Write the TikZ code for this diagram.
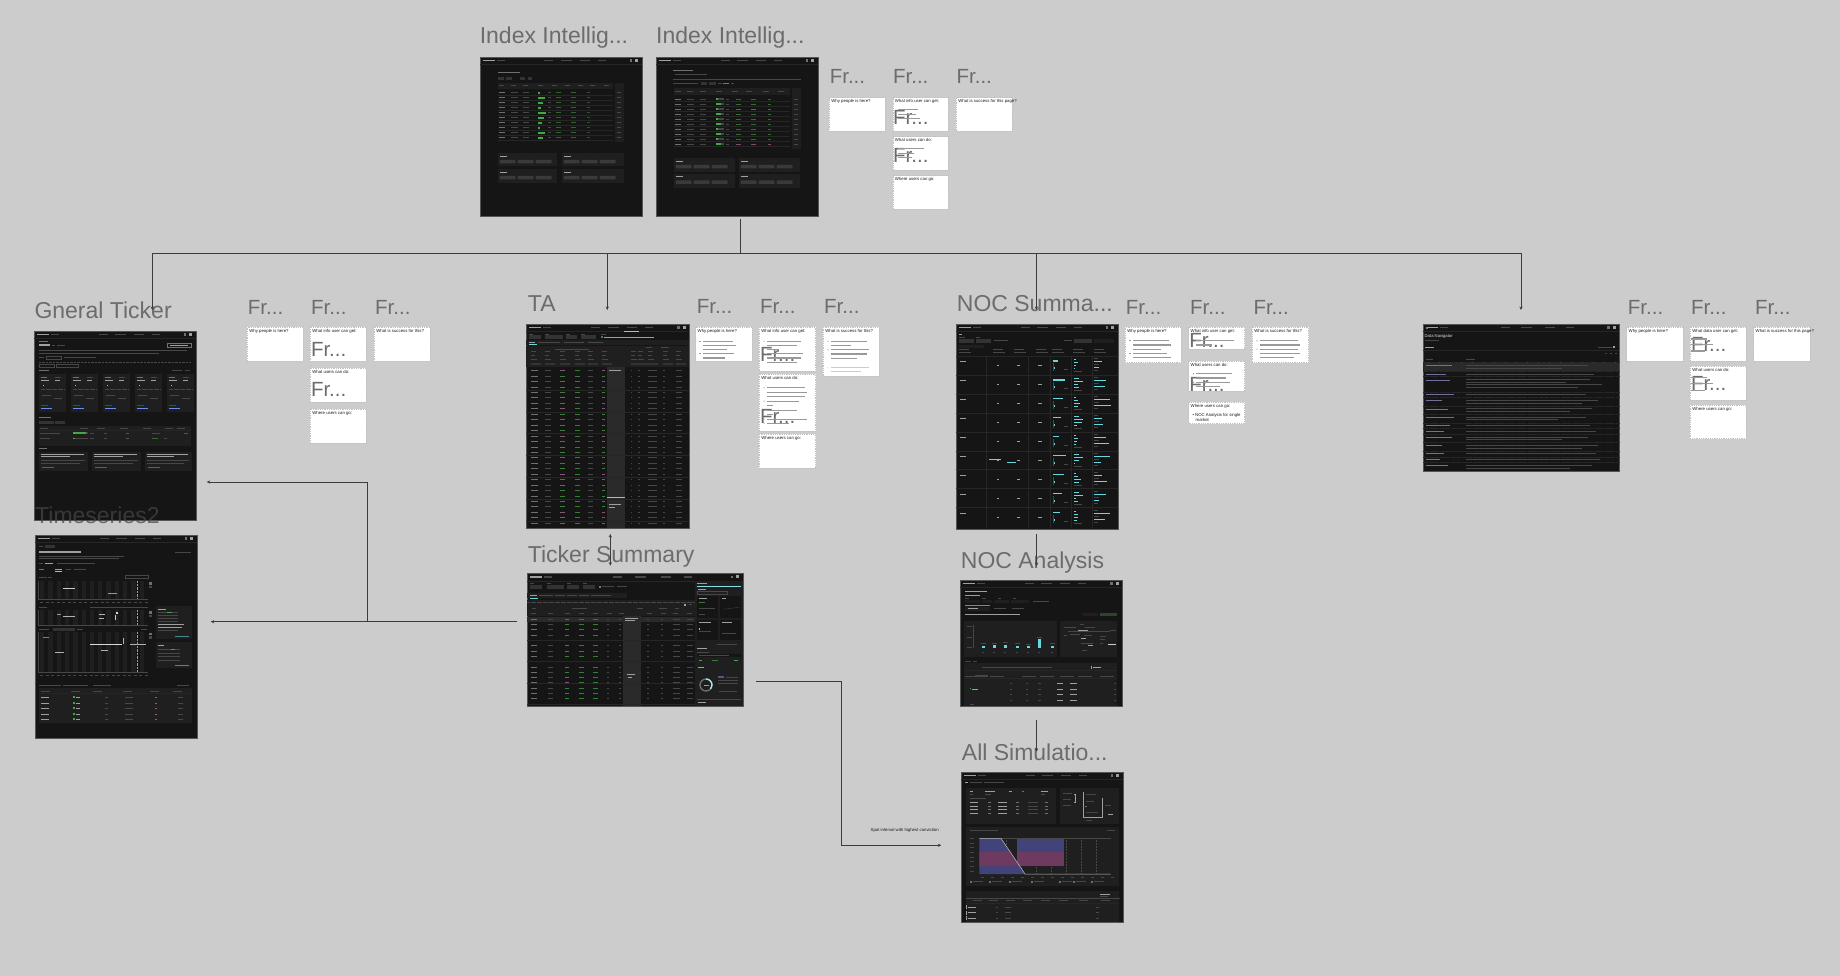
\documentclass[tikz,border=0pt]{standalone}
\usepackage{fontspec}
\setmainfont{Liberation Sans}
\usetikzlibrary{arrows.meta,calc}
\definecolor{bgc}{HTML}{CCCCCC}
\definecolor{ttl}{HTML}{6C6C6C}
\definecolor{frm}{HTML}{151515}
\definecolor{frmb}{HTML}{555555}
\definecolor{pnl}{HTML}{1F1F1F}
\definecolor{pnb}{HTML}{333333}
\definecolor{pilc}{HTML}{3A3A3A}
\definecolor{txg}{HTML}{707070}
\definecolor{txd}{HTML}{474747}
\definecolor{txl}{HTML}{A0A0A0}
\definecolor{grn}{HTML}{43A843}
\definecolor{cyn}{HTML}{66D8E0}
\definecolor{lnk}{HTML}{3C3C3C}
\definecolor{stb}{HTML}{C2C2C2}
\definecolor{hcol}{HTML}{2A2A2A}
\definecolor{sep}{HTML}{262626}
\definecolor{pur}{HTML}{41437A}
\definecolor{pnk}{HTML}{6E3A60}
\definecolor{lkc}{HTML}{70709A}
\definecolor{sttx}{HTML}{1A1A1A}
\definecolor{t2c}{HTML}{464646}

\newcommand{\bartx}[4][txg]{\fill[#1] ({#2},{#3}) rectangle ++({#4},1);}
\newcommand{\mknav}[1]{%
  \fill[txl] (3,3) rectangle ++(12,1.2);
  \fill[txd] (17,3) rectangle ++(8,1.2);
  \fill[txd] ({#1*0.40},3) rectangle ++(9,1.2);
  \fill[txd] ({#1*0.50},3) rectangle ++(11,1.2);
  \fill[txd] ({#1*0.62},3) rectangle ++(10,1.2);
  \fill[txd] ({#1*0.73},3) rectangle ++(8,1.2);
  \fill[txg] ({#1-12},2.3) rectangle ++(2.6,2.6);
  \fill[txl] ({#1-6.5},2.1) rectangle ++(3,3);
  \draw[sep,line width=0.3pt] (0,7.5) -- (#1,7.5);
}
\newcommand{\mkpill}[4]{%
  \fill[pnl] (#1,#2) rectangle (#3,#4);
  \bartx[txl]{#1+2}{#2+2.5}{7}
  \foreach \k in {0,1,2}{\fill[pilc,rounded corners=0.8pt] ({#1+2+\k*18},{#2+6.5}) rectangle ++(16,3.5);}
}
\newcommand{\stk}[6]{%
  \node[stick,minimum width=#4pt,minimum height=#5pt] (#1) at (#2,#3) {};
  \node[stxt] (#1-t) at ($(#1.north west)+(2.2,2.3)$) {#6};
}
\newcommand{\stl}[4]{\fill[black!40] ($(#1.north west)+(#2,#3)$) rectangle ++(#4,1.1);}
\newcommand{\stdot}[3]{\fill[black!70] ($(#1.north west)+(#2,#3)$) circle (0.5);}
\newcommand{\nfr}[4]{\node[frnode] (#1) at ($(#2.north west)+(#3,#4)$) {Fr...};}

\tikzset{
  ttlnode/.style={anchor=base west,inner sep=0pt,text=ttl,font=\fontsize{23}{27}\selectfont},
  frnode/.style={anchor=base west,inner sep=0pt,text=ttl,font=\fontsize{20.5}{24}\selectfont},
  scrn/.style={fill=frm,draw=frmb,line width=0.7pt,anchor=north west,inner sep=0pt},
  stick/.style={fill=white,draw=stb,dash pattern=on 1pt off 0.8pt,line width=0.45pt,anchor=north west,inner sep=0pt},
  stxt/.style={anchor=north west,inner sep=0pt,text=sttx,font=\fontsize{4.3}{5.2}\selectfont},
  lnkline/.style={draw=lnk,line width=0.9pt},
  conn/.style={lnkline,-{Stealth[length=3.5pt,width=3.2pt]}},
  conn2/.style={lnkline,{Stealth[length=3.5pt,width=3.2pt]}-{Stealth[length=3.5pt,width=3.2pt]}},
  lbl/.style={inner sep=0pt,text=sttx,font=\fontsize{4.3}{5}\selectfont},
}

\begin{document}
\begin{tikzpicture}[x=1pt,y=-1pt]
\useasboundingbox (0,0) rectangle (1840,976);
\fill[bgc] (0,0) rectangle (1840,976);

% ================= TITLES =================
\node[ttlnode] (t-ii1) at (479.6,43.3) {Index Intellig...};
\node[ttlnode] (t-ii2) at (656,43.3) {Index Intellig...};
\node[ttlnode] (t-gt) at (34.3,319) {Gneral Ticker};
\node[ttlnode] (t-ta) at (527.7,312) {TA};
\node[ttlnode] (t-noc) at (956.7,311.7) {NOC Summa...};
\node[ttlnode] (t-ts) at (527.7,562) {Ticker Summary};
\node[ttlnode] (t-na) at (960.7,568.3) {NOC Analysis};
\node[ttlnode] (t-as) at (961.7,760) {All Simulatio...};

% group labels
\node[frnode] (f-ii1) at (829.6,84) {Fr...};
\node[frnode] (f-ii2) at (892.9,84) {Fr...};
\node[frnode] (f-ii3) at (956.4,84) {Fr...};
\node[frnode] (f-gt1) at (247.7,315) {Fr...};
\node[frnode] (f-gt2) at (311,315) {Fr...};
\node[frnode] (f-gt3) at (375,315) {Fr...};
\node[frnode] (f-ta1) at (696.7,314) {Fr...};
\node[frnode] (f-ta2) at (760,314) {Fr...};
\node[frnode] (f-ta3) at (824,314) {Fr...};
\node[frnode] (f-noc1) at (1125.7,315) {Fr...};
\node[frnode] (f-noc2) at (1190,315) {Fr...};
\node[frnode] (f-noc3) at (1253.3,315) {Fr...};
\node[frnode] (f-dn1) at (1627.7,315) {Fr...};
\node[frnode] (f-dn2) at (1691,315) {Fr...};
\node[frnode] (f-dn3) at (1755,315) {Fr...};

% ================= INDEX INTELLIGENCE 1 =================
\node[scrn,minimum width=162pt,minimum height=159.3pt] (ii1) at (479.6,56.7) {};
\begin{scope}[shift={(479.6,56.7)}]
\mknav{162}
\bartx{18}{15.5}{22}
\foreach \xx/\ll in {18/6,26/6,40/5,48/4}{\fill[pnb] (\xx,20.5) rectangle ++(\ll,2.5);}
\fill[pnl] (18,26.5) rectangle (133,32);
\foreach \xx in {19,31,43,58,72,85,98,110,124}{\bartx[txd]{\xx}{28.8}{5}}
\fill[pnl] (135,26.5) rectangle (144,85);
\foreach \i in {0,...,9}{
  \pgfmathsetmacro\yy{35.6+\i*5}
  \pgfmathsetmacro\gl{2+mod(\i*5,7)}
  \draw[sep,line width=0.25pt] (18,{\yy+2.7}) -- (133,{\yy+2.7});
  \bartx{19}{\yy}{6}\bartx[txd]{31}{\yy}{7}\bartx[txd]{43}{\yy}{6}
  \fill[grn] (58,{\yy-0.3}) rectangle ++(\gl,1.6);
  \bartx[txd]{68}{\yy}{3}
  \bartx[grn!55!frm]{76}{\yy}{5}\bartx[grn!55!frm]{91}{\yy}{5}
  \bartx[grn!45!frm]{107}{\yy}{3}
  \bartx[txd]{137.5}{\yy}{4}
}
\mkpill{18}{96.7}{77.4}{109.3}\mkpill{82}{96.7}{144}{109.3}
\mkpill{18}{112.7}{77.4}{126.7}\mkpill{82}{112.7}{144}{126.7}
\end{scope}

% ================= INDEX INTELLIGENCE 2 =================
\node[scrn,minimum width=161.5pt,minimum height=159.3pt] (ii2) at (656,56.7) {};
\begin{scope}[shift={(656,56.7)}]
\mknav{161.5}
\bartx{17}{13.5}{20}\bartx[txd]{19}{17.5}{32}
\draw[txd,line width=0.4pt] (17,22.3) -- (145,22.3);
\bartx[txd]{17}{26.8}{25}\fill[pnb] (45,25.8) rectangle ++(6,3);\fill[pnb] (53,25.8) rectangle ++(7,3);
\bartx[txd]{62}{26.8}{4}\bartx[cyn!60!frm]{67}{26.8}{6}\bartx[txd]{75}{26.8}{3}
\fill[pnl] (17.6,31) rectangle (134,38.3);
\foreach \xx in {19,31,44,60,76,90,107,122}{\bartx[txd]{\xx}{34}{6}}
\fill[pnl] (135.5,31) rectangle (145,92);
\foreach \i in {0,...,9}{
  \pgfmathsetmacro\yy{42+\i*5}
  \pgfmathsetmacro\gl{2+mod(\i*3,6)}
  \pgfmathtruncatemacro\pk{mod(\i*3,7)}
  \ifnum\pk=6 \colorlet{cc}{pnk!90!white}\else\colorlet{cc}{grn!60!frm}\fi
  \draw[sep,line width=0.25pt] (17.6,{\yy+2.6}) -- (134,{\yy+2.6});
  \bartx{19}{\yy}{6}\bartx[txd]{31}{\yy}{7}\bartx[txd]{44}{\yy}{6}
  \fill[grn] (60,{\yy-0.3}) rectangle ++(\gl,1.6);\fill[txd] ({60+\gl},{\yy-0.3}) rectangle ++({8-\gl},1.6);
  \bartx[txd]{70}{\yy}{3}
  \bartx[cc]{80}{\yy}{5}\bartx[cc]{95}{\yy}{5}\bartx[cc]{112}{\yy}{3}
  \bartx[txd]{138}{\yy}{4}
}
\mkpill{17.6}{101.7}{79}{115.7}\mkpill{82.6}{101.7}{144}{115.7}
\mkpill{17.6}{117.3}{79}{131.7}\mkpill{82.6}{117.3}{144}{131.7}
\end{scope}

% ================= GENERAL TICKER =================
\node[scrn,minimum width=162pt,minimum height=189pt] (gt) at (33.7,331) {};
\begin{scope}[shift={(33.7,331)}]
\mknav{162}
\bartx{5}{10}{9}
\fill[txl] (5,13.5) rectangle ++(11,1.8);
\bartx[txd]{18}{14}{3}\bartx[txd]{23}{14}{8}
\draw[txg,line width=0.3pt] (133,12.5) rectangle (157,16.5);
\bartx[txl]{136}{14}{18}
\bartx[txd]{5}{19.5}{148}\bartx[txd]{5}{21.8}{120}
\bartx[txd]{5}{26.5}{5}\draw[txd,line width=0.3pt] (12,25.3) rectangle ++(15,3.2);\bartx[txd]{30}{26.5}{32}
\draw[txd,line width=0.3pt,dash pattern=on 0.8pt off 0.6pt] (5,31) -- (157,31);
\draw[txd,line width=0.3pt] (5,33.5) rectangle ++(15,3);\draw[txd,line width=0.3pt] (22,33.5) rectangle ++(22,3);
\bartx{5}{39}{10}\bartx[txd]{138}{39}{10}\bartx[txd]{151}{39}{5}
\foreach \xx in {5,37,69,101,133}{
  \fill[pnl] (\xx,43.5) rectangle ++(27.5,37.5);
  \bartx{\xx+2}{46}{6}\bartx[txd]{\xx+16}{46}{6}
  \bartx[txl]{\xx+2}{49}{8}\bartx[txl]{\xx+16}{49}{5}
  \fill[cyn] ({\xx+4},54) rectangle ++(1,1);
  \draw[txd,line width=0.3pt,dash pattern=on 0.5pt off 0.7pt] ({\xx+2},58.5) -- ++(23,0);
  \bartx[txd]{\xx+3}{64}{9}\bartx[txd]{\xx+15}{67}{8}
  \bartx[txd]{\xx+2}{74}{7}
  \fill[cyn!55!blue!80!white] ({\xx+2},77) rectangle ++(11,1.4);
}
\bartx{5}{86}{12}
\fill[pnb] (5,89.5) rectangle ++(15,3);\fill[pnb] (21,89.5) rectangle ++(10,3);
\fill[pnl] (5,94.5) rectangle (157,115);
\foreach \xx in {5,45,62,85,108,130,142}{\bartx[txd]{\xx+1}{96.5}{8}}
\draw[sep,line width=0.3pt] (5,99.5) -- (157,99.5);
\bartx[txd]{6}{101.5}{20}\fill[grn] (39,101.3) rectangle ++(13,1.6);\fill[txd] (52,101.3) rectangle ++(2,1.6);
\bartx[txd]{56}{101.5}{4}\bartx[txd]{70}{101.5}{3}\bartx[grn!60!frm]{92}{101.5}{3}\bartx[txd]{118}{101.5}{8}\bartx[grn!60!frm]{150}{101.5}{4}
\bartx[txd]{6}{107}{10}\fill[grn] (39,106.8) rectangle ++(2,1.6);\fill[txd] (41,106.8) rectangle ++(13,1.6);
\bartx[txd]{56}{107}{4}\bartx[txd]{70}{107}{3}\bartx[grn!60!frm]{92}{107}{3}\bartx[grn!60!frm]{118}{107}{6}\bartx[txd]{130}{107}{3}
\bartx{5}{117}{8}
\foreach \xx/\ww in {5/49,58/49,111/47}{
  \fill[pnl] (\xx,120.5) rectangle ++(\ww,19.5);
  \bartx[txl]{\xx+2}{122.5}{\ww-6}\bartx[txl]{\xx+2}{125}{\ww-20}
  \bartx[txd]{\xx+2}{129}{\ww-5}\bartx[txd]{\xx+2}{131.5}{\ww-10}
  \bartx[grn!70!frm]{\xx+3}{135.5}{12}
}
\end{scope}
\node[ttlnode,text=t2c,text opacity=0.72] (t-t2) at (35,523) {Timeseries2};

% ================= TIMESERIES2 =================
\node[scrn,minimum width=161.8pt,minimum height=203.3pt] (ts2) at (35,535) {};
\begin{scope}[shift={(35,535)}]
\mknav{161.8}
\bartx[txd]{4}{11}{4}\fill[pnb] (10,10) rectangle ++(10,3);
\fill[txl] (4,16.3) rectangle ++(42,1.8);\bartx[txd]{140}{16.5}{16}
\bartx[txd]{4}{21}{85}\bartx[txd]{4}{23.2}{80}
\bartx[txd]{4}{28}{4}\bartx[txl]{10}{28}{8}\bartx[txd]{22}{28}{38}
\bartx{4}{34}{5}\bartx[txl]{20}{34}{7}\bartx[txd]{31}{34}{5}\bartx[txd]{39}{34}{12}
\fill[cyn] (20,36.3) rectangle ++(7,0.6);
\bartx[txd]{4}{41.5}{8}\bartx[txd]{13}{41.5}{4}\draw[txd,line width=0.3pt] (90,40) rectangle ++(23,3.2);
\bartx[txd]{4}{72}{8}\bartx[txd]{55}{72}{58}
\bartx[txd]{4}{94}{10}\fill[pnb] (18,93) rectangle ++(22,2.5);\bartx[txd]{42}{94}{6}\bartx[txd]{106}{94}{6}
\foreach \ya/\yb in {46/64,75/90,96.7/136.7}{
  \foreach \k in {0,...,12}{\fill[pnl] ({5+\k*8.3},\ya) rectangle ({9.3+\k*8.3},\yb);}
  \draw[txd,line width=0.3pt] (3.5,\ya) -- (3.5,\yb) -- (113,\yb);
  \draw[txl,line width=0.3pt,dash pattern=on 0.8pt off 0.6pt] (102.5,\ya) -- (102.5,\yb);
  \fill[txg] (114,{\ya+1}) rectangle ++(2.5,2.5);\fill[txd] (114,{\ya+4.5}) rectangle ++(2.5,2.5);
}
\foreach \k in {0,...,19}{\bartx[txd]{5+\k*5.5}{66.5}{3}\bartx[txd]{5+\k*5.5}{139.5}{3}}
\fill[white!80!black] (28,52.5) rectangle ++(12,0.6);
\fill[white!60!black] (73,58) rectangle ++(9,0.5);
\fill[white!70!black] (28,81) rectangle ++(12,0.6);\fill[white!60!black] (22,79) rectangle ++(4,0.5);
\fill[white!70!black] (64,79) rectangle ++(6,0.6);\fill[white!70!black] (64,82.5) rectangle ++(5,0.6);
\fill[white!80!black] (80,80) rectangle ++(1,5);\fill[cyn!60!white] (81,76.5) rectangle ++(1.5,2);
\fill[white!85!black] (55,109) rectangle ++(32,0.7);
\fill[white!70!black] (20,117) rectangle ++(9,0.6);
\fill[white!70!black] (66,115) rectangle ++(7,0.6);
\fill[white!70!black] (95,109) rectangle ++(16,0.7);
\fill[white!70!black] (88,103) rectangle ++(0.7,6);
\fill[pur!70!white] (8,102) rectangle ++(6,1);
\fill[pnl] (121,71) rectangle (157,104.3);
\bartx[txl]{123}{73.5}{8}
\foreach \yy in {77,80,83,86,89,92,95}{\bartx[txd]{123}{\yy}{20}}
\bartx[grn]{132}{77}{5}\bartx[txl]{123}{89}{26}\bartx[txl]{123}{92}{24}
\bartx[cyn!60!frm]{140}{101}{14}
\fill[pnl] (121,107.3) rectangle (157,132.7);
\bartx[txl]{123}{110}{6}
\foreach \yy in {114,117.5,121,124.5}{\bartx[txd]{123}{\yy}{22}}
\bartx[grn]{136}{114}{4}\bartx[cyn!60!frm]{140}{129.5}{14}
\bartx[txd]{4}{149.5}{22}\bartx[txd]{28}{149.5}{25}\bartx[txd]{58}{149.5}{18}\bartx[txd]{142}{149.5}{12}
\fill[pnl] (4,153) rectangle (157,188);
\foreach \xx in {6,36,58,88,115,138}{\bartx[txd]{\xx}{156}{9}}
\draw[sep,line width=0.3pt] (4,158.5) -- (157,158.5);
\foreach \yy in {162,167.5,173,178.5,184}{
  \bartx[txl]{6}{\yy}{8}\fill[grn] (38,{\yy-0.6}) rectangle ++(2,2);\bartx[txl]{41}{\yy}{4}
  \bartx[txd]{70}{\yy}{3}\bartx[txd]{90}{\yy}{8}\bartx[pnk!80!white]{120}{\yy}{2}\bartx[txd]{143}{\yy}{5}
}
\end{scope}

% ================= TA =================
\node[scrn,minimum width=163pt,minimum height=203.7pt] (ta) at (526,324) {};
\begin{scope}[shift={(526,324)}]
\mknav{163}
\fill[cyn] (98,7) rectangle ++(15,0.6);
\foreach \xx/\ll in {3/12,19/18,40/11,55/15}{\bartx[txd]{\xx}{9.7}{4}\fill[pnb] (\xx,11.5) rectangle ++(\ll,3.5);}
\bartx[txd]{75}{9.7}{5}\fill[cyn!50!frm] (75,12.5) rectangle ++(1.5,1.5);\bartx[txl]{78}{12.8}{50}
\fill[pnl] (0,16.5) rectangle (163,21);
\bartx[txl]{3}{18.2}{6}\bartx[txd]{12}{18.2}{22}\bartx[txd]{38}{18.2}{20}\bartx[txd]{62}{18.2}{15}
\fill[cyn] (3,20.4) rectangle ++(8,0.5);
\fill[pnl] (0,22) rectangle (163,43.5);
\draw[txd,line width=0.4pt] (29,24.8) -- (63,24.8);
\foreach \xx in {4.7,19,34,49,62.3,75.7,104.7,112.3,122.3,137.3,149.7}{
  \bartx[txd]{\xx}{27}{5}\bartx[txd]{\xx}{31}{4}\bartx[txd]{\xx}{35}{6}\fill[pnb] (\xx,39) rectangle ++(10,2.5);}
\bartx[txd]{120}{23}{6}\bartx[txd]{135}{23}{8}
\fill[hcol] (81,43.5) rectangle (99.3,203.7);
\foreach \i in {0,...,28}{
  \pgfmathsetmacro\yy{46.2+\i*5.45}
  \pgfmathtruncatemacro\pk{mod(\i*3,7)}
  \ifnum\pk<2 \colorlet{cc}{pnk!85!white}\else\colorlet{cc}{grn!75!frm}\fi
  \bartx{4.7}{\yy}{7}\bartx[txd]{19}{\yy}{6}
  \bartx[cc]{34}{\yy}{5}\bartx[grn!70!frm]{49}{\yy}{5}\bartx[txd]{62.3}{\yy}{5}\bartx[cc]{75.7}{\yy}{3}
  \bartx[txd]{104.7}{\yy}{1.5}\bartx[txd]{112.3}{\yy}{2}\bartx[txd]{122.3}{\yy}{9}\bartx[txd]{137.3}{\yy}{2}\bartx[txd]{149.7}{\yy}{6}
}
\foreach \i in {1,...,7}{\draw[sep,line width=0.5pt] (0,{44.2+\i*4*5.45}) -- (163,{44.2+\i*4*5.45});}
\draw[cyn,line width=0.5pt] (81,173.3) -- (99.3,173.3);
\bartx[txl]{83}{46}{12}\bartx[txl]{83}{180}{12}\bartx[txl]{83}{183}{6}
\end{scope}

% ================= TICKER SUMMARY =================
\node[scrn,minimum width=215.7pt,minimum height=132.7pt] (ts) at (527,573.3) {};
\begin{scope}[shift={(527,573.3)}]
\mknav{215.7}
\foreach \xx/\ll in {3/12,20/17,40/12,56/12}{\bartx[txd]{\xx}{10}{4}\fill[pnb] (\xx,12) rectangle ++(\ll,3.5);}
\fill[cyn!60!frm] (72,12.6) rectangle ++(2,2);\bartx[txd]{75}{13}{12}\bartx[txd]{90}{13}{10}
\fill[pnl] (0,20) rectangle (100,25);
\bartx[txl]{3}{22}{7}\bartx[txd]{12}{22}{14}\bartx[txd]{28}{22}{10}\bartx[txd]{40}{22}{10}\bartx[txd]{52}{22}{10}\bartx[txd]{64}{22}{20}
\fill[cyn] (3,24.3) rectangle ++(8,0.5);
\fill[pnl] (0,27) rectangle (168,43);
\draw[txd,line width=0.3pt,dash pattern=on 0.6pt off 0.6pt] (0,29) -- (168,29);
\fill[txl] (157,30.5) rectangle ++(2,2);\bartx[txd]{162}{31}{3}
\bartx[txd]{5}{35}{4}\bartx[txd]{45}{35}{15}\bartx[txd]{110}{35}{6}\bartx[txd]{132}{35}{8}\bartx[txd]{148}{35}{4}
\foreach \xx in {3.7,21.3,38,52.3,65.7,79.7,92.3,119.7,134,146.3,159.7}{\bartx[txd]{\xx}{39.5}{5}}
\fill[hcol] (96,43) rectangle (113.7,132.7);
\fill[hcol] (0,43.5) rectangle (168,48.5);
\foreach \i in {0,...,16}{
  \pgfmathsetmacro\yy{45.5+\i*5.3}
  \pgfmathtruncatemacro\pk{mod(\i*5,6)}
  \ifnum\pk<2 \colorlet{cc}{pnk!85!white}\else\colorlet{cc}{grn!75!frm}\fi
  \bartx{3.7}{\yy}{6}\bartx[txd]{21.3}{\yy}{5}\bartx[cc]{38}{\yy}{4}\bartx[grn!70!frm]{52.3}{\yy}{5}\bartx[grn!70!frm]{65.7}{\yy}{5}\bartx[txd]{79.7}{\yy}{2}\bartx[txd]{92.3}{\yy}{2}
  \bartx[txd]{119.7}{\yy}{2}\bartx[txd]{134}{\yy}{2}\bartx[txd]{146.3}{\yy}{7}\bartx[txd]{159.7}{\yy}{6}
}
\foreach \i in {1,...,4}{\draw[sep,line width=0.5pt] (0,{46+\i*4*5.3}) -- (168,{46+\i*4*5.3});}
\bartx[txl]{98}{45}{13}\bartx[txl]{98}{47}{10}\bartx[txl]{100}{101}{8}\bartx[txl]{101}{103.5}{4}
\fill[pnl] (168,8) rectangle (215.7,132.7);
\draw[cyn!80!white,line width=0.5pt] (169.5,12.5) -- (214,12.5);
\bartx[txl]{170}{10}{10}\bartx[txl]{171}{15.5}{8}\draw[txd,line width=0.3pt] (170,18) rectangle ++(30,3);
\fill[frm] (170,23) rectangle (191,45);\fill[frm] (193,23) rectangle (214,45);
\bartx[txl]{172}{25}{8}\bartx[grn!70!frm]{172}{29}{6}\draw[txd,line width=0.3pt] (172,35) -- (188,35);\bartx[txd]{172}{41}{6}\bartx[txl]{195}{25}{4}\draw[txd,line width=0.3pt] (196,36) -- (212,34);
\fill[frm] (170,47) rectangle (191,67);\fill[frm] (193,47) rectangle (214,67);
\bartx[txl]{172}{49}{12}\bartx[txd]{172}{58}{12}\fill[cyn] (172,55) rectangle ++(0.8,2);\bartx[txl]{195}{49}{10}\bartx[txd]{195}{60}{14}
\bartx[txd]{190}{70.5}{20}
\bartx[txl]{170}{75}{10}\bartx[txd]{170}{78.5}{12}
\fill[frm] (170,80.5) rectangle (214,84);\bartx[txd]{172}{82}{30}
\bartx[grn]{172}{87}{3}\bartx[grn!70!frm]{185}{87}{6}\bartx[grn]{207}{87}{4}
\bartx[txl]{171}{94}{6}
\draw[txg,line width=1.3pt] (179,111.7) circle (6);
\draw[cyn!60!white,line width=1.3pt] (179,105.7) arc (-90:40:6);
\bartx[txl]{176.5}{111.3}{5}
\fill[pur!90!white] (191,103) rectangle ++(6,1.5);\bartx[txd]{199}{103.3}{12}
\bartx[txd]{191}{106.5}{20}\bartx[txd]{191}{109.5}{20}
\bartx[txd]{192}{118}{18}
\draw[txd,line width=0.3pt] (170,126) -- (214,126);
\bartx[txl]{171}{128.5}{8}
\end{scope}

% ================= NOC SUMMARY =================
\node[scrn,minimum width=161.7pt,minimum height=205.6pt] (noc) at (956,323.7) {};
\begin{scope}[shift={(956,323.7)}]
\mknav{161.7}
\bartx[txl]{3}{10.5}{3}\bartx[txd]{3}{13.5}{6}\bartx[txd]{20}{13.5}{4}
\fill[pnb] (3,15.5) rectangle ++(15,3.5);\fill[pnb] (20,15.5) rectangle ++(15,3.5);\bartx[txd]{38}{16.8}{14}
\bartx[txd]{108}{16.8}{8}\fill[pnb] (118,15.3) rectangle ++(18,3.8);\fill[pnl] (138,15.3) rectangle ++(20,3.8);
\fill[pnl] (3,21.5) rectangle ++(25,2.5);
\foreach \xx in {3,37,58,80,96,117,138}{\bartx[txd]{\xx}{25.5}{10}\bartx[txd]{\xx}{28.5}{12}}
\foreach \i in {0,...,8}{
  \pgfmathsetmacro\yy{32.6+\i*18.9}
  \draw[sep,line width=0.5pt] (0,\yy) -- (161.7,\yy);
  \bartx[txl]{4}{\yy+5}{6}
  \bartx[txl]{41}{\yy+9}{2}\bartx[txl]{61}{\yy+9}{3}\bartx[txl]{82}{\yy+9}{4}
  \fill[cyn] (97,{\yy+4}) rectangle ++({5+mod(\i*7,9)},1.3);
  \fill[txd] (97,{\yy+7}) rectangle ++(0.8,8);
  \fill[cyn] (97.5,{\yy+11}) rectangle ++(1,2);
  \bartx[txd]{108}{\yy+13}{4}
  \fill[cyn] (118,{\yy+3}) rectangle ++({2+mod(\i*3,6)},1.2);
  \fill[cyn] (118,{\yy+6}) rectangle ++({4+mod(\i*5,10)},1.2);
  \fill[cyn] (118,{\yy+9}) rectangle ++({2+mod(\i*2,7)},1.2);
  \fill[cyn] (118,{\yy+12}) rectangle ++({1+mod(\i*4,5)},1.2);
  \bartx[txd]{118}{\yy+15}{8}
  \bartx[txd]{138}{\yy+2}{4}
  \fill[cyn] (138,{\yy+5}) rectangle ++({8+mod(\i*4,12)},0.8);
  \bartx[txd]{138}{\yy+8}{5}
  \fill[cyn] (138,{\yy+11}) rectangle ++({5+mod(\i*6,14)},0.8);
  \bartx[txd]{138}{\yy+14}{4}
}
\foreach \xx in {30.3,72.3,94,115,135.7}{\draw[sep,line width=0.4pt] (\xx,32.6) -- (\xx,204.7);}
\fill[cyn] (33,{32.6+5*18.9+8}) rectangle ++(12,1.6);
\fill[cyn] (51,{32.6+5*18.9+11}) rectangle ++(9,1.6);
\end{scope}

% ================= NOC ANALYSIS =================
\node[scrn,minimum width=162pt,minimum height=125.7pt] (na) at (960,580) {};
\begin{scope}[shift={(960,580)}]
\mknav{162}
\bartx[txl]{5}{11}{22}\bartx[txl]{5}{14.5}{15}
\bartx[txd]{5}{17.5}{4}\bartx[txd]{22}{17.5}{4}\bartx[txd]{38}{17.5}{3}\bartx[txd]{53}{17.5}{3}
\fill[pnl] (5,19.5) rectangle ++(15,3.5);\fill[pnl] (22,19.5) rectangle ++(10,3.5);\fill[pnl] (34,19.5) rectangle ++(15,3.5);\fill[pnl] (51,19.5) rectangle ++(18,3.5);\bartx[txd]{73}{21}{16}
\fill[cyn!70!frm] (5,25.3) rectangle ++(25,0.6);
\fill[pnl] (5,26.5) rectangle ++(25,4);\bartx[txl]{8}{28}{10}\bartx[txd]{34}{28}{12}\bartx[txd]{52}{28}{12}
\bartx[txl]{5}{34.3}{55}
\fill[pnl] (122,32.5) rectangle ++(16,3);\fill[grn!35!frm] (140,32.5) rectangle ++(17,3);
\fill[pnl] (4,40.7) rectangle (97,76.7);
\bartx[txd]{7}{46}{5}\bartx[txd]{7}{56.5}{5}\bartx[txd]{7}{66.5}{5}
\draw[txd,line width=0.4pt] (13,45) -- (13,68.3);
\foreach \xx/\hh in {21.7/2.5,32.7/3,44.3/3.5,55.7/2.5,67.3/2,77.7/9,90.7/2.5}{
  \fill[cyn] (\xx,68.3) rectangle ++(2.8,-\hh);
  \bartx[txd]{\xx-1}{68.3-\hh-2.5}{5}
  \bartx[txd]{\xx}{71.5}{2}
}
\fill[pnl] (100,40.7) rectangle (157,76.7);
\bartx[txd]{120}{43.5}{4}\bartx[txd]{104}{47}{12}\bartx[txd]{125}{47}{10}
\draw[txd,line width=0.3pt] (108,51) -- (150,51);\bartx[txl]{118}{50}{10}\bartx[txd]{150}{50}{6}
\bartx[txd]{104}{54.5}{3}\bartx[txd]{110}{54}{10}\bartx[txd]{124}{55}{8}\bartx[txd]{140}{55.5}{6}
\fill[txl] (121,57.5) rectangle ++(5,1.4);\bartx[txd]{140}{58.5}{5}
\bartx[txd]{121}{63}{12}\fill[txl] (128,65) rectangle ++(5,1);\bartx[txd]{140}{63}{3}\fill[white!80!black] (148,64) rectangle ++(8,1.4);
\bartx[txd]{122}{70}{5}
\bartx[txd]{5}{80.5}{6}\bartx[txd]{13}{80.5}{4}
\fill[pnl] (4,83) rectangle (157,125.7);
\bartx[txd]{22}{87}{70}\fill[txl] (131,86) rectangle ++(0.5,3);\bartx[txl]{133}{87}{8}
\draw[sep,line width=0.3pt] (4,90.5) -- (157,90.5);
\foreach \xx in {5,30,62,80,100,118,140}{\bartx[txd]{\xx}{95.5}{14}}
\fill[txd] (15,95) rectangle ++(13,2);
\draw[sep,line width=0.3pt] (4,98.5) -- (157,98.5);
\foreach \yy in {103,108.5,114,119.5}{\bartx[txd]{50}{\yy}{2}\bartx[txd]{66}{\yy}{2}\bartx[txd]{78}{\yy}{3}\bartx[txl]{97}{\yy}{6}\bartx[txl]{110}{\yy}{7}\bartx[txd]{154}{\yy}{1.5}}
\fill[grn] (10,107.8) rectangle ++(1,1);\bartx[txl]{12}{108.5}{6}
\bartx[txd]{10}{124}{4}
\end{scope}

% ================= ALL SIMULATIONS =================
\node[scrn,minimum width=161.7pt,minimum height=150.6pt] (as) at (961,771.7) {};
\begin{scope}[shift={(961,771.7)}]
\mknav{161.7}
\bartx[txl]{4}{10}{3}\bartx[txd]{9}{10}{12}\bartx[txd]{23}{10}{20}
\fill[pnl] (4.7,16.3) rectangle (95.3,52.4);
\fill[pnl] (99,16.3) rectangle (158,52.4);
\bartx[txl]{9}{19.5}{3}\bartx[txl]{24}{19.5}{10}\bartx[txl]{48}{19.5}{3}\fill[pnk!80!white] (61,19) rectangle ++(2,1.5);\bartx[txl]{80}{19.5}{7}
\bartx[txd]{9}{22}{3}\bartx[txd]{24}{22}{6}\bartx[txd]{80}{22}{4}
\bartx[txd]{9}{26.5}{16}
\foreach \yy in {30.5,34,37.5,41}{\bartx[txl]{9}{\yy}{8}\bartx{27}{\yy}{3}\bartx[txl]{37}{\yy}{9}\bartx{55}{\yy}{3}\bartx[txd]{67}{\yy}{10}\bartx{84}{\yy}{3}}
\draw[txl,line width=0.4pt] (122.3,20) -- (122.3,45) -- (140.7,45) -- (140.7,26);
\draw[txl,line width=0.4pt] (113,22) -- (114,22) -- (114,30) -- (113,30);
\bartx[txd]{102}{21}{9}\bartx[txd]{102}{27}{8}\bartx[txd]{102}{33}{8}
\fill[cyn] (113.5,26.5) rectangle ++(1,1);
\fill[pnk!80!white] (124,34) rectangle ++(1.5,1.5);
\bartx[txd]{125}{22}{10}\bartx[txd]{125}{29}{8}\bartx[txd]{125}{40}{12}
\bartx[txd]{144}{33}{6}\bartx[txl]{147}{42}{5}\bartx[txd]{125}{48}{6}
\fill[pnl] (4.7,55) rectangle (158,114.3);
\bartx[txd]{9}{58}{28}\bartx[txd]{146}{58}{8}
\foreach \yy in {66.6,71.3,76,80.7,85.4,90.1,94.8,99.5}{\bartx[txd]{9}{\yy-0.5}{4}}
\foreach \xx in {30,45,60,75,90,105,120,135}{\draw[txd,line width=0.3pt,dash pattern=on 0.5pt off 1pt] (\xx,66.6) -- (\xx,102.3);}
\fill[pur] (18.3,66.6) -- (40,66.6) -- (64,102.3) -- (18.3,102.3) -- cycle;
\fill[pnk] (18.3,80) -- (49,80) -- (58.6,94.3) -- (18.3,94.3) -- cycle;
\fill[pur] (56.3,66.6) rectangle (103,80);
\fill[pnk] (56.3,80) rectangle (103,94.3);
\draw[txd,line width=0.4pt] (40,66.6) -- (149.7,66.6);
\draw[white!75!black,line width=0.5pt] (18.3,66.6) -- (40,66.6) -- (64,102.3) -- (149.7,102.3);
\foreach \xx in {20,30,...,150}{\bartx[txd]{\xx}{105.5}{3}}
\foreach \xx in {9,28,48,70,98,112,130}{\fill[pur!80!white] (\xx,109.5) rectangle ++(1.5,1.5);\bartx[txd]{\xx+2.5}{109.5}{10}}
\fill[pnl] (4.7,119) rectangle (158,150.6);
\bartx[txl]{139}{122}{10}\bartx[txd]{139}{124.5}{8}
\draw[txd,line width=0.3pt,dash pattern=on 0.5pt off 0.5pt] (4.7,126.5) -- (158,126.5);
\foreach \xx in {12,28,45,62,80,98,118,140}{\bartx[txd]{\xx}{128.5}{9}}
\draw[sep,line width=0.3pt] (4.7,131.5) -- (158,131.5);
\foreach \yy in {135,140.5,146}{\fill[txl] (5,{\yy-1.5}) rectangle ++(0.6,4);\bartx[txl]{7}{\yy}{8}\bartx[txd]{35}{\yy}{2}\bartx[txd]{44}{\yy}{6}\bartx[txd]{135}{\yy}{3}}
\end{scope}

% ================= DATA NAVIGATOR =================
\node[scrn,minimum width=196pt,minimum height=146.7pt] (dn) at (1423,324) {};
\begin{scope}[shift={(1423,324)}]
\mknav{196}
\fill[pur!70!white] (3,2.6) rectangle ++(2,2);
\node[anchor=base west,inner sep=0pt,text=white!88!black,font=\fontsize{4.2}{5}\selectfont] (dntitle) at (1.5,13.3) {Data Navigator};
\bartx[txd]{1.5}{16.2}{14}
\bartx[txl]{1.5}{22.6}{9}\bartx[txd]{175}{22.6}{14}\fill[txl] (190,22) rectangle ++(2,2);
\draw[sep,line width=0.4pt] (0,26) -- (196,26);
\foreach \xx in {182,187,192}{\fill[txd] (\xx,28.6) rectangle ++(1.8,1.8);}
\bartx[txd]{3}{35.5}{7}\bartx[txd]{43}{35.5}{9}
\draw[txd,line width=0.3pt] (0,38) -- (196,38);
\fill[hcol] (0,38.6) rectangle (196,46.8);
\foreach \yy/\nl/\ll in {41/2/26,50/1/20,55/4/24,70.3/1/28,76/2/16,84.3/2/22,92.7/2/28,101.3/1/24,107/1/18,112.7/2/26,121/2/16,129.3/1/18,135.3/1/14,141/2/22}{
  \draw[sep,line width=0.3pt,dash pattern=on 0.5pt off 0.6pt] (0,{\yy-2.4}) -- (196,{\yy-2.4});
  \bartx[lkc]{3}{\yy+0.4*(\nl-1)}{\ll}
  \foreach \m in {1,...,\nl}{\bartx[txd]{43}{\yy+(\m-1)*2.6}{148-mod(\m*\ll,60)}}
}
\end{scope}

% ================= STICKY NOTES =================
% Index
\stk{iiS1}{829}{97.3}{55.7}{33.4}{Why people is here?}
\stk{iiS2}{892.5}{97.3}{55.5}{33.4}{What info user can get:}
\nfr{iiS2f}{iiS2}{0.5}{27.5}
\stl{iiS2}{5}{12}{20}\stl{iiS2}{5}{16.5}{18}\stl{iiS2}{5}{21}{22}
\stk{iiS3}{892.5}{136.3}{55.5}{33.4}{What users can do:}
\nfr{iiS3f}{iiS3}{0.5}{26.5}
\stl{iiS3}{5}{12}{26}\stl{iiS3}{5}{16.5}{16}\stl{iiS3}{5}{21}{14}
\stk{iiS4}{892.5}{175.3}{55.5}{33.4}{Where users can go:}
\stk{iiS5}{956}{97.3}{56}{33.4}{What is success for this page?}
% General Ticker
\stk{gtS1}{247}{327}{55.7}{34}{Why people is here?}
\stk{gtS2}{310}{327}{56}{34}{What info user can get:}
\nfr{gtS2f}{gtS2}{0.8}{29}
\stk{gtS3}{310}{368}{56}{33.7}{What users can do:}
\nfr{gtS3f}{gtS3}{0.8}{28.7}
\stk{gtS4}{310}{409}{56}{33.7}{Where users can go:}
\stk{gtS5}{374}{327}{56}{34}{What is success for this?}
% TA
\stk{taS1}{695.3}{327}{56.4}{33.7}{Why people is here?}
\stl{taS1}{4}{13.7}{1.6}\stl{taS1}{7.5}{13.7}{30}\stl{taS1}{7.5}{17.9}{33}\stl{taS1}{7.5}{22.1}{24}
\stl{taS1}{4}{26.3}{1.6}\stl{taS1}{7.5}{26.3}{31}\stl{taS1}{7.5}{30.5}{22}
\stk{taS2}{759}{327}{56.3}{44}{What info user can get:}
\nfr{taS2f}{taS2}{0.8}{35}
\stdot{taS2}{5}{14.2}\stl{taS2}{7.5}{13.7}{34}\stl{taS2}{7.5}{17.9}{30}\stl{taS2}{7.5}{22.1}{12}
\stdot{taS2}{5}{26.8}\stl{taS2}{7.5}{26.3}{36}\stl{taS2}{7.5}{30.5}{34}\stl{taS2}{7.5}{34.7}{30}
\stk{taS3}{759}{374}{56.3}{57}{What users can do:}
\nfr{taS3f}{taS3}{0.8}{49}
\stdot{taS3}{5}{13.8}\stl{taS3}{7.5}{13.3}{38}\stl{taS3}{7.5}{17.7}{40}\stl{taS3}{7.5}{22}{38}
\stdot{taS3}{5}{27.2}\stl{taS3}{7.5}{26.7}{32}\stl{taS3}{7.5}{31}{6}
\stdot{taS3}{5}{36.2}\stl{taS3}{7.5}{35.7}{30}\stl{taS3}{7.5}{40}{6}
\stdot{taS3}{5}{45.2}\stl{taS3}{7.5}{44.7}{40}\stdot{taS3}{5}{49.2}\stl{taS3}{7.5}{48.7}{22}
\stk{taS4}{759}{434}{56.3}{33.7}{Where users can go:}
\stk{taS5}{823}{327}{56}{48.7}{What is success for this?}
\stdot{taS5}{5}{14.2}\stl{taS5}{7.5}{13.7}{36}\stl{taS5}{7.5}{17.9}{20}
\stdot{taS5}{5}{22.8}\stl{taS5}{7.5}{22.3}{38}\stl{taS5}{7.5}{26.5}{36}\stl{taS5}{7.5}{30.7}{26}
\fill[black!20] ($(taS5.north west)+(5,40.3)$) circle (0.5);
\fill[black!20] ($(taS5.north west)+(7.5,39.8)$) rectangle ++(38,1.1);
\fill[black!20] ($(taS5.north west)+(7.5,44.2)$) rectangle ++(30,1.1);
% NOC
\stk{nocS1}{1125}{327}{56}{35.3}{Why people is here?}
\stl{nocS1}{4}{13.3}{1.6}\stl{nocS1}{7.5}{13.3}{36}\stl{nocS1}{7.5}{17.5}{38}\stl{nocS1}{7.5}{21.7}{28}
\stl{nocS1}{4}{25.9}{1.6}\stl{nocS1}{7.5}{25.9}{34}\stl{nocS1}{7.5}{30.1}{38}
\stk{nocS2}{1188.3}{327}{56}{22}{What info user can get:}
\nfr{nocS2f}{nocS2}{0.8}{20.5}
\stdot{nocS2}{5}{13.8}\stl{nocS2}{7.5}{13.3}{38}\stl{nocS2}{7.5}{17.5}{16}
\stk{nocS3}{1188.3}{360.7}{56}{30}{What users can do:}
\nfr{nocS3f}{nocS3}{0.8}{30.5}
\stdot{nocS3}{5}{13.1}\stl{nocS3}{7.5}{12.6}{36}\stl{nocS3}{7.5}{16.8}{30}
\stdot{nocS3}{5}{21.5}\stl{nocS3}{7.5}{21}{34}\stl{nocS3}{7.5}{25.2}{24}
\stk{nocS4}{1188.3}{402}{56}{21.3}{Where users can go:}
\node[stxt,align=left] (nocS4-b) at ($(nocS4.north west)+(4,10.8)$) {\textbullet\ NOC Analysis for single\\\hspace*{3.2pt}market};
\stk{nocS5}{1252}{327}{56.3}{35.3}{What is success for this?}
\stdot{nocS5}{5}{13.8}\stl{nocS5}{7.5}{13.3}{38}\stl{nocS5}{7.5}{17.5}{40}
\stdot{nocS5}{5}{22.2}\stl{nocS5}{7.5}{21.7}{38}\stl{nocS5}{7.5}{25.9}{40}\stl{nocS5}{7.5}{30.1}{34}
% Data Navigator
\stk{dnS1}{1626.3}{327}{56.4}{33.7}{Why people is here?}
\stk{dnS2}{1690}{327}{56}{33.7}{What data user can get:}
\nfr{dnS2f}{dnS2}{0.8}{25}
\stl{dnS2}{1}{11.5}{16}\stl{dnS2}{1}{16.8}{22}\stl{dnS2}{1}{23.5}{14}
\stk{dnS3}{1690}{366}{56}{33.7}{What users can do:}
\nfr{dnS3f}{dnS3}{0.8}{24.5}
\stl{dnS3}{1}{11.2}{16}\stl{dnS3}{1}{16.8}{22}\stl{dnS3}{1}{23.5}{14}
\stk{dnS4}{1690}{405}{56}{33.3}{Where users can go:}
\stk{dnS5}{1753.3}{327}{56.4}{33.7}{What is success for this page?}

% ================= CONNECTORS =================
\coordinate (busJ) at (740,253.4);
\coordinate (aGT) at (152.3,310);
\coordinate (aTA) at (607.3,310);
\coordinate (aNOC) at (1036.4,310);
\coordinate (aDN) at (1521,310);
\draw[lnkline] ($(ii2.south -| busJ)+(0,2.5)$) -- (busJ);
\draw[conn] (busJ) -| (aGT);
\draw[conn] (busJ) -| (aTA);
\draw[conn] (busJ) -| (aNOC);
\draw[conn] (busJ) -| (aDN);

\coordinate (taB) at (610.3,534);
\coordinate (tsT) at (610.3,565.7);
\draw[conn2] (taB) -- (tsT);

\coordinate (tsL) at (517,621.7);
\coordinate (t2R) at (210.7,621.7);
\coordinate (brJ) at (367.5,621.7);
\coordinate (gtR) at (206.7,482);
\draw[conn] (tsL) -- (t2R);
\draw[conn] (brJ) |- (gtR);

\coordinate (tsR) at (756,681.3);
\coordinate (cor) at (841.3,845.3);
\coordinate (asL) at (941.3,845.3);
\draw[conn] (tsR) -| (cor) -- (asL);
\node[lbl] (spot) at (904.7,830) {Spot interval with highest conviction};

\coordinate (nA1) at (1036.6,534);
\coordinate (nA2) at (1036.6,566);
\coordinate (nB1) at (1036.6,720);
\coordinate (nB2) at (1036.6,751.7);
\draw[conn] (nA1) -- (nA2);
\draw[conn] (nB1) -- (nB2);
\end{tikzpicture}
\end{document}
